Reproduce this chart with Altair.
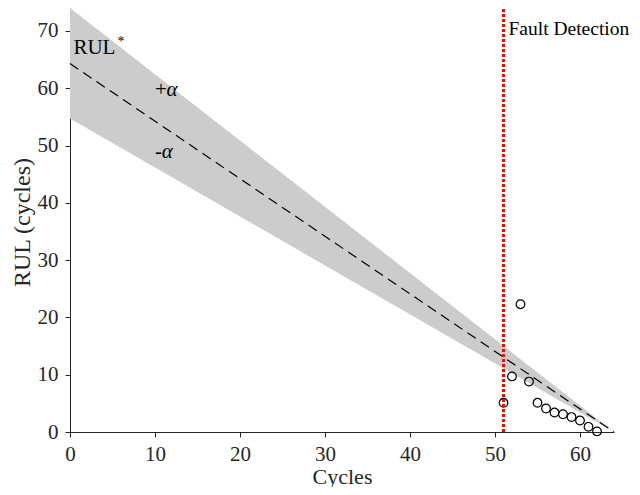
import altair as alt
import pandas as pd

# Reference RUL line and +/- alpha bounds (end points)
cycles_end = [0, 64]
rul_true = [64.3, 0]
rul_upper = [74.0, 0]
rul_lower = [54.7, 0]

# Observed RUL estimates
obs_cycles = [51, 52, 53, 54, 55, 56, 57, 58, 59, 60, 61, 62]
obs_rul = [5.1, 9.7, 22.3, 8.8, 5.1, 4.1, 3.4, 3.1, 2.6, 2.0, 0.9, 0.1]

fault_cycle = [51]
fault_top = [74]

x_ticks = [0, 10, 20, 30, 40, 50, 60]
y_ticks = [0, 10, 20, 30, 40, 50, 60, 70]

FONT = "Liberation Serif"
AX = "#262626"

band_df = pd.DataFrame({"c": cycles_end, "t": rul_true, "u": rul_upper, "l": rul_lower})
obs_df = pd.DataFrame({"c": obs_cycles, "r": obs_rul})
fault_df = pd.DataFrame({"c": fault_cycle, "y0": [0], "y1": fault_top})

xs = alt.Scale(domain=[0, 64], nice=False, zero=False)
ys = alt.Scale(domain=[0, 74], nice=False, zero=False)

xax = alt.Axis(values=x_ticks, title="Cycles", grid=False, tickSize=5, labelPadding=6,
               labelFlush=False,
               titleX=272, titleY=51, titleBaseline="alphabetic", titleAlign="center",
               titleFontSize=22)
yax = alt.Axis(values=y_ticks, title="RUL (cycles)", grid=False, tickSize=5, labelPadding=7,
               labelFlush=False,
               titleX=-48, titleY=214, titleAngle=-90, titleBaseline="middle", titleAlign="center",
               titleFontSize=24)

band = alt.Chart(band_df).mark_area(color="#cccccc", opacity=1).encode(
    x=alt.X("c:Q", scale=xs, axis=xax),
    y=alt.Y("u:Q", scale=ys, axis=yax),
    y2="l:Q",
)

true_line = alt.Chart(band_df).mark_line(color="black", strokeWidth=1.2, strokeDash=[10, 6]).encode(
    x=alt.X("c:Q", scale=xs),
    y=alt.Y("t:Q", scale=ys),
)

points = alt.Chart(obs_df).mark_point(shape="circle", filled=False, color="black",
                                      strokeWidth=1.2, size=75, opacity=1).encode(
    x=alt.X("c:Q", scale=xs),
    y=alt.Y("r:Q", scale=ys),
)

fault = alt.Chart(fault_df).mark_rule(color="#ff0000", strokeWidth=3, strokeDash=[3, 2]).encode(
    x=alt.X("c:Q", scale=xs),
    y=alt.Y("y0:Q", scale=ys),
    y2="y1:Q",
)

def label(text, x, y, size=21, align="left", baseline="alphabetic", style="normal", dx=0):
    return alt.Chart().mark_text(text=text, font=FONT, fontSize=size, align=align,
                                 baseline=baseline, fontStyle=style, color="black", dx=dx).encode(
        x=alt.datum(x, scale=xs), y=alt.datum(y, scale=ys))

texts = [
    label("Fault Detection", 51, 69.3, size=19.5, dx=5),
    label("RUL", 0.4, 65.9, size=21),
    label("*", 6.0, 67.4, size=14, align="center"),
    label("+", 10.0, 58.6, size=21),
    label("α", 11.35, 58.6, size=21, style="italic"),
    label("-", 10.0, 47.9, size=21),
    label("α", 10.8, 47.9, size=21, style="italic"),
]

chart = alt.layer(band, true_line, points, fault, *texts).properties(
    width=544, height=424,
    autosize=alt.AutoSizeParams(type="none"),
    padding={"left": 62, "top": 0, "right": 18, "bottom": 55},
).configure_view(stroke=None).configure_axis(
    domainColor=AX, tickColor=AX, labelColor=AX, titleColor=AX,
    labelFont=FONT, titleFont=FONT, labelFontSize=21, titleFontSize=23,
    titleFontWeight="normal", domainWidth=1, tickWidth=1,
)

chart.save("out.html", embed_options={"renderer": "svg", "actions": False})
